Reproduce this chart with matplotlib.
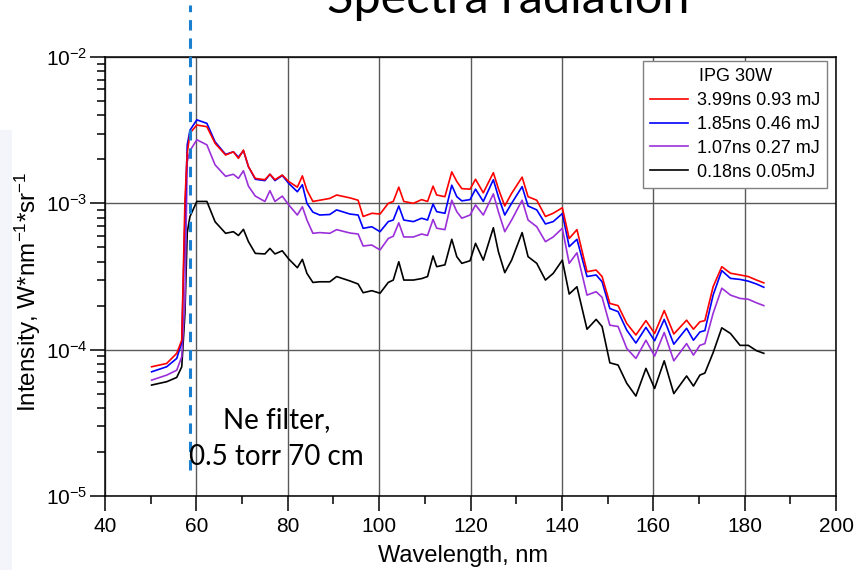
import matplotlib
matplotlib.use('Agg')
import matplotlib.pyplot as plt
import matplotlib.transforms as mtransforms
from matplotlib.patches import Rectangle
from matplotlib.ticker import MultipleLocator, LogLocator, NullFormatter

plt.rcParams['font.family'] = ['Liberation Sans', 'DejaVu Sans']
plt.rcParams['mathtext.fontset'] = 'custom'
plt.rcParams['mathtext.rm'] = 'Liberation Sans'
plt.rcParams['mathtext.it'] = 'Liberation Sans:italic'
plt.rcParams['mathtext.bf'] = 'Liberation Sans:bold'
plt.rcParams['mathtext.default'] = 'regular'

# ---------------- data ----------------
wavelength = [50.2, 53.5, 55.7, 56.8, 57.5, 58.0, 58.6, 60.1, 62.3, 64.1,
              66.4, 68.1, 69.2, 70.3, 71.4, 72.9, 75.0, 76.1, 77.2, 78.8,
              80.2, 82.1, 83.2, 84.2, 85.5, 87.0, 89.2, 90.7, 93.6, 95.4,
              96.5, 98.4, 100.2, 102.0, 103.1, 104.3, 105.4, 107.5, 109.3, 110.6,
              111.8, 112.6, 114.4, 115.9, 117.0, 118.1, 119.9, 121.1, 122.8, 125.0,
              126.1, 127.5, 129.0, 131.3, 132.6, 134.5, 136.4, 138.1, 140.1, 141.6,
              143.3, 145.5, 147.5, 148.8, 150.5, 152.3, 154.2, 156.2, 158.4, 160.3,
              162.4, 164.5, 167.3, 168.8, 170.2, 171.3, 173.1, 175.0, 176.9, 179.0,
              180.8, 182.6, 184.2]

red_399ns = [7.64e-5, 8.05e-5, 9.44e-5, 1.16e-4, 1.05e-3, 2.20e-3, 3.02e-3, 3.43e-3, 3.34e-3, 2.57e-3,
             2.14e-3, 2.25e-3, 2.03e-3, 2.31e-3, 1.78e-3, 1.48e-3, 1.45e-3, 1.58e-3, 1.45e-3, 1.56e-3,
             1.41e-3, 1.29e-3, 1.54e-3, 1.23e-3, 1.03e-3, 1.05e-3, 1.08e-3, 1.14e-3, 1.09e-3, 1.05e-3,
             8.13e-4, 8.55e-4, 8.45e-4, 1.00e-3, 1.03e-3, 1.29e-3, 1.03e-3, 1.00e-3, 1.06e-3, 1.03e-3,
             1.31e-3, 1.14e-3, 1.11e-3, 1.64e-3, 1.41e-3, 1.26e-3, 1.25e-3, 1.46e-3, 1.18e-3, 1.62e-3,
             1.26e-3, 9.59e-4, 1.17e-3, 1.51e-3, 1.11e-3, 1.05e-3, 8.13e-4, 8.55e-4, 9.33e-4, 5.75e-4,
             6.61e-4, 3.41e-4, 3.50e-4, 3.16e-4, 2.07e-4, 2.00e-4, 1.51e-4, 1.26e-4, 1.58e-4, 1.29e-4,
             1.85e-4, 1.28e-4, 1.59e-4, 1.38e-4, 1.55e-4, 1.58e-4, 2.69e-4, 3.69e-4, 3.33e-4, 3.24e-4,
             3.16e-4, 2.99e-4, 2.86e-4]

blue_185ns = [7.06e-5, 7.64e-5, 8.71e-5, 1.12e-4, 7.94e-4, 2.51e-3, 3.16e-3, 3.72e-3, 3.52e-3, 2.63e-3,
              2.16e-3, 2.25e-3, 2.07e-3, 2.29e-3, 1.78e-3, 1.46e-3, 1.43e-3, 1.58e-3, 1.43e-3, 1.55e-3,
              1.37e-3, 1.20e-3, 1.34e-3, 1.00e-3, 8.71e-4, 8.32e-4, 8.39e-4, 9.02e-4, 8.45e-4, 8.32e-4,
              6.75e-4, 6.92e-4, 6.40e-4, 7.50e-4, 7.69e-4, 9.59e-4, 7.69e-4, 7.50e-4, 7.91e-4, 7.69e-4,
              9.89e-4, 8.77e-4, 8.55e-4, 1.33e-3, 1.11e-3, 1.04e-3, 1.06e-3, 1.25e-3, 1.03e-3, 1.45e-3,
              1.11e-3, 8.32e-4, 1.00e-3, 1.30e-3, 9.59e-4, 9.02e-4, 7.23e-4, 7.50e-4, 8.51e-4, 5.06e-4,
              5.68e-4, 3.16e-4, 3.24e-4, 2.91e-4, 1.91e-4, 1.82e-4, 1.36e-4, 1.11e-4, 1.42e-4, 1.15e-4,
              1.61e-4, 1.09e-4, 1.40e-4, 1.16e-4, 1.32e-4, 1.35e-4, 2.36e-4, 3.47e-4, 3.07e-4, 3.02e-4,
              2.94e-4, 2.81e-4, 2.67e-4]

purple_107ns = [6.19e-5, 6.70e-5, 7.24e-5, 8.95e-5, 2.19e-4, 1.92e-3, 2.29e-3, 2.72e-3, 2.51e-3, 1.83e-3,
                1.53e-3, 1.58e-3, 1.48e-3, 1.67e-3, 1.31e-3, 1.12e-3, 1.03e-3, 1.22e-3, 1.03e-3, 1.12e-3,
                9.77e-4, 8.32e-4, 9.48e-4, 7.69e-4, 6.24e-4, 6.31e-4, 6.24e-4, 6.61e-4, 6.27e-4, 6.17e-4,
                5.11e-4, 5.19e-4, 4.80e-4, 5.75e-4, 5.96e-4, 7.36e-4, 5.89e-4, 5.89e-4, 6.17e-4, 6.03e-4,
                7.76e-4, 6.76e-4, 6.61e-4, 1.05e-3, 8.77e-4, 7.91e-4, 8.32e-4, 9.75e-4, 8.32e-4, 1.16e-3,
                8.77e-4, 6.40e-4, 7.69e-4, 1.05e-3, 7.69e-4, 6.92e-4, 5.47e-4, 5.89e-4, 6.75e-4, 3.89e-4,
                4.59e-4, 2.36e-4, 2.49e-4, 2.28e-4, 1.47e-4, 1.44e-4, 1.02e-4, 8.71e-5, 1.16e-4, 9.04e-5,
                1.31e-4, 8.39e-5, 1.10e-4, 9.18e-5, 1.07e-4, 1.10e-4, 1.77e-4, 2.63e-4, 2.36e-4, 2.24e-4,
                2.21e-4, 2.09e-4, 2.00e-4]

black_018ns = [5.73e-5, 6.04e-5, 6.46e-5, 7.64e-5, 1.78e-4, 6.31e-4, 8.13e-4, 1.03e-3, 1.03e-3, 7.48e-4,
               6.24e-4, 6.40e-4, 6.03e-4, 6.64e-4, 5.47e-4, 4.55e-4, 4.51e-4, 4.92e-4, 4.51e-4, 4.74e-4,
               4.17e-4, 3.63e-4, 4.14e-4, 3.32e-4, 2.88e-4, 2.91e-4, 2.91e-4, 3.16e-4, 2.95e-4, 2.81e-4,
               2.45e-4, 2.53e-4, 2.43e-4, 2.88e-4, 2.99e-4, 3.99e-4, 2.99e-4, 2.99e-4, 3.06e-4, 3.16e-4,
               4.37e-4, 3.69e-4, 3.80e-4, 5.68e-4, 4.32e-4, 3.89e-4, 4.05e-4, 5.33e-4, 4.09e-4, 6.81e-4,
               4.68e-4, 3.36e-4, 4.09e-4, 6.31e-4, 4.32e-4, 3.89e-4, 2.99e-4, 3.32e-4, 4.09e-4, 2.40e-4,
               2.69e-4, 1.38e-4, 1.61e-4, 1.44e-4, 8.13e-5, 7.85e-5, 5.89e-5, 4.82e-5, 7.45e-5, 5.43e-5,
               8.39e-5, 5.01e-5, 6.61e-5, 5.64e-5, 6.70e-5, 6.92e-5, 9.53e-5, 1.41e-4, 1.29e-4, 1.07e-4,
               1.07e-4, 9.84e-5, 9.44e-5]

series_labels = ['3.99ns 0.93 mJ', '1.85ns 0.46 mJ', '1.07ns 0.27 mJ', '0.18ns 0.05mJ']
legend_title = 'IPG 30W'
filter_wavelength = 58.6
x_label = 'Wavelength, nm'
y_label = 'Intensity, W*nm$^{-1}$*sr$^{-1}$'
title_text = 'Spectra radiation'
note_lines = ['Ne filter,', '0.5 torr 70 cm']

# ---------------- figure ----------------
W, H = 856, 570
fig = plt.figure(figsize=(W / 100, H / 100), dpi=100)
fig.patch.set_facecolor('white')

# faint slide background strip at the left edge
fig.patches.append(Rectangle((0, 0), 12 / W, (H - 130) / H, transform=fig.transFigure,
                             facecolor='#f3f5fa', edgecolor='none', zorder=0))

ax = fig.add_axes([105 / W, (H - 496) / H, (836 - 105) / W, (496 - 57) / H])
ax.set_yscale('log')
ax.set_xlim(40, 200)
ax.set_ylim(1e-5, 1e-2)

ax.grid(True, which='major', color='#5a5a5a', linewidth=1.0)
ax.set_axisbelow(True)

lw = 1.2
l_black, = ax.plot(wavelength, black_018ns, color='black', lw=lw, label=series_labels[3])
l_purple, = ax.plot(wavelength, purple_107ns, color='#9b30d9', lw=lw, label=series_labels[2])
l_blue, = ax.plot(wavelength, blue_185ns, color='#0000ff', lw=lw, label=series_labels[1])
l_red, = ax.plot(wavelength, red_399ns, color='#ff0000', lw=lw, label=series_labels[0])

trans = mtransforms.blended_transform_factory(ax.transData, ax.transAxes)
ax.plot([filter_wavelength, filter_wavelength], [(496 - 470) / 439, (496 - 5) / 439],
        transform=trans, clip_on=False, color='#1a7fd0', lw=2.2,
        linestyle=(0, (3.4, 2.6)), zorder=5)

for s in ax.spines.values():
    s.set_color('black')
    s.set_linewidth(1.1)

ax.xaxis.set_major_locator(MultipleLocator(20))
ax.xaxis.set_minor_locator(MultipleLocator(10))
ax.yaxis.set_major_locator(LogLocator(base=10, numticks=10))
ax.yaxis.set_minor_locator(LogLocator(base=10, subs=[2, 3, 4, 5, 6, 7, 8, 9], numticks=20))
ax.yaxis.set_minor_formatter(NullFormatter())
ax.tick_params(which='major', direction='out', length=11, width=1.1, labelsize=15, color='black')
ax.tick_params(which='minor', direction='out', length=6, width=1.1, color='black')
ax.tick_params(axis='x', which='major', pad=4)
ax.tick_params(axis='y', which='major', pad=1.5)

fig.text(463 / W, 1 - 562 / H, x_label, ha='center', va='baseline', fontsize=17)
fig.text(28 / W, 1 - 292 / H, y_label, ha='center', va='center', rotation=90, fontsize=17.5)

leg = ax.legend(handles=[l_red, l_blue, l_purple, l_black], title=legend_title,
                loc='upper right', bbox_to_anchor=(827 / W, 1 - 61 / H),
                bbox_transform=fig.transFigure, borderaxespad=0,
                prop={'size': 13}, title_fontsize=13, frameon=True, fancybox=False,
                framealpha=1, edgecolor='#808080', borderpad=0.4, labelspacing=0.38,
                handlelength=2.1, handletextpad=0.45)
leg.get_frame().set_linewidth(1.0)

fig.text(508 / W, 1 - 13 / H, title_text, ha='center', va='baseline', fontsize=35,
         family=['Lato', 'DejaVu Sans'])
fig.text(277 / W, 1 - 428 / H, note_lines[0], ha='center', va='baseline', fontsize=20,
         family=['Lato', 'DejaVu Sans'])
fig.text(276 / W, 1 - 465 / H, note_lines[1], ha='center', va='baseline', fontsize=20,
         family=['Lato', 'DejaVu Sans'])

fig.savefig('out.png', dpi=100)
